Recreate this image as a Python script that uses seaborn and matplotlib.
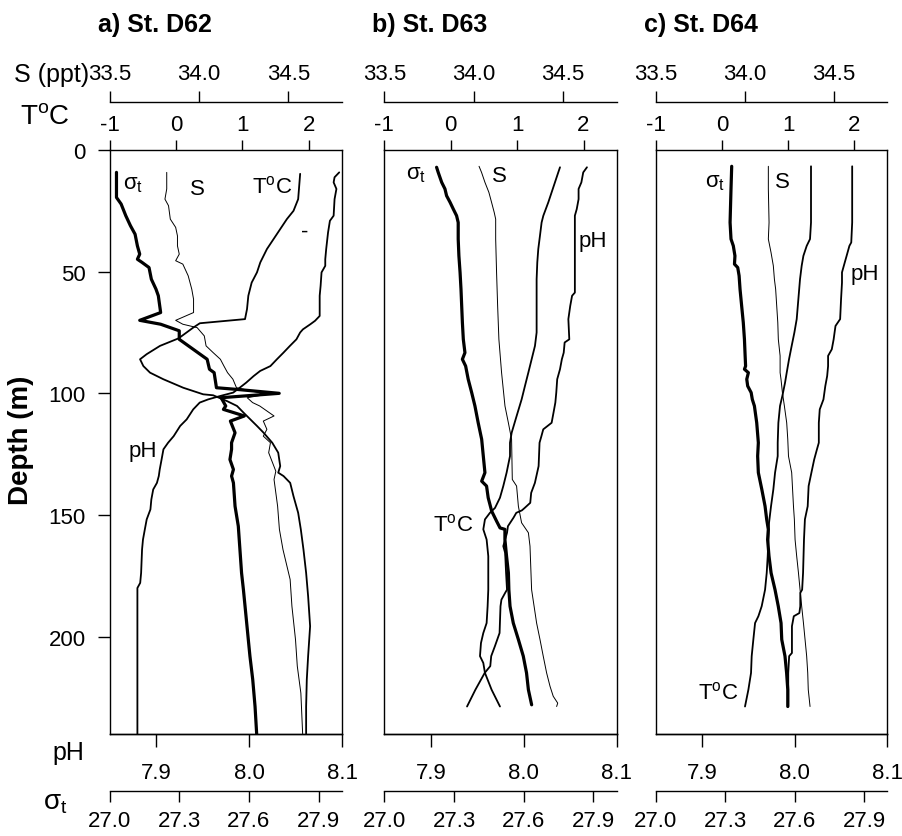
import matplotlib
matplotlib.use("Agg")
import matplotlib.pyplot as plt
from matplotlib.ticker import FormatStrFormatter
import seaborn as sns

# ---------------- St. D62 profiles (depth in m) ----------------
d62_sig_z = [9.2, 19.5, 22.2, 27.0, 31.1, 34.6, 39.4, 42.8, 44.9, 46.2, 48.3, 53.1, 57.2, 59.9, 66.8,
             70.0, 71.6, 74.3, 77.8, 81.9, 86.0, 90.1, 91.5, 97.7, 98.4, 100.0, 101.8, 105.2, 106.6,
             109.3, 111.4, 116.2, 120.3, 123.0, 127.2, 131.3, 134.0, 136.8, 146.4, 154.6, 164.2,
             173.8, 180.7, 187.5, 201.2, 208.0, 217.6, 228.7, 240.0]
d62_sig = [27.03, 27.03, 27.05, 27.07, 27.09, 27.11, 27.12, 27.13, 27.12, 27.14, 27.17, 27.18, 27.20,
           27.21, 27.22, 27.13, 27.22, 27.30, 27.30, 27.36, 27.42, 27.43, 27.45, 27.46, 27.55, 27.73,
           27.48, 27.50, 27.49, 27.58, 27.52, 27.54, 27.525, 27.525, 27.518, 27.533, 27.525, 27.533,
           27.540, 27.554, 27.561, 27.568, 27.576, 27.583, 27.597, 27.604, 27.616, 27.626, 27.633]

d62_s_z = [9.2, 16.0, 20.2, 22.9, 28.4, 31.8, 35.3, 39.4, 42.8, 45.5, 46.9, 51.7, 57.2, 61.3, 66.8,
           70.0, 71.6, 72.3, 73.0, 76.4, 80.5, 83.3, 86.0, 88.8, 91.5, 94.2, 97.7, 100.4, 101.8,
           103.8, 105.2, 109.3, 111.4, 114.8, 117.6, 120.3, 124.4, 132.0, 135.4, 146.4, 155.9,
           164.2, 176.5, 187.5, 201.2, 212.1, 223.2, 240.0]
d62_s = [33.82, 33.82, 33.81, 33.83, 33.84, 33.87, 33.88, 33.88, 33.89, 33.87, 33.91, 33.94, 33.96,
         33.97, 33.97, 33.87, 33.91, 33.95, 33.99, 34.03, 34.04, 34.08, 34.12, 34.14, 34.16, 34.19,
         34.21, 34.38, 34.27, 34.30, 34.34, 34.42, 34.36, 34.38, 34.36, 34.40, 34.39, 34.43, 34.42,
         34.44, 34.45, 34.47, 34.51, 34.52, 34.54, 34.55, 34.57, 34.58]

d62_t_z = [9.8, 20.2, 25.0, 28.4, 32.5, 36.6, 40.7, 46.2, 50.3, 54.5, 59.9, 65.4, 69.5, 71.2, 73.0,
           75.0, 77.4, 80.5, 83.9, 86.0, 88.8, 91.5, 94.2, 97.7, 100.4, 100.8, 103.2, 105.2, 108.0,
           110.7, 113.4, 116.2, 120.3, 124.4, 129.9, 132.6, 134.0, 136.8, 142.3, 149.1, 155.9,
           164.2, 173.8, 183.4, 195.7, 208.0, 217.6, 228.7, 240.0]
d62_t = [1.87, 1.84, 1.77, 1.67, 1.57, 1.47, 1.37, 1.27, 1.22, 1.14, 1.09, 1.07, 1.04, 0.36, 0.26,
         0.16, 0.04, -0.24, -0.44, -0.54, -0.49, -0.39, -0.19, 0.11, 0.41, 0.56, 0.77, 0.92, 1.02,
         1.12, 1.22, 1.32, 1.45, 1.54, 1.57, 1.54, 1.62, 1.72, 1.77, 1.84, 1.88, 1.92, 1.96, 1.99,
         2.02, 1.99, 1.97, 1.96, 1.96]

d62_ph_z = [9.2, 11.2, 13.3, 16.0, 20.2, 27.0, 29.1, 33.9, 40.7, 44.9, 47.6, 50.3, 55.8, 59.9, 68.2,
            70.2, 71.6, 73.7, 75.0, 77.8, 80.5, 83.3, 86.0, 88.8, 90.8, 92.9, 95.6, 97.7, 99.7,
            101.1, 102.5, 103.8, 106.6, 110.7, 113.4, 117.6, 120.3, 123.0, 127.2, 131.3, 134.0,
            136.8, 139.5, 143.6, 147.7, 151.8, 155.9, 160.1, 164.2, 173.8, 177.9, 180.0, 240.0]
d62_ph = [8.097, 8.092, 8.091, 8.094, 8.092, 8.091, 8.087, 8.085, 8.083, 8.082, 8.082, 8.078, 8.077,
          8.076, 8.076, 8.071, 8.066, 8.058, 8.055, 8.051, 8.044, 8.037, 8.030, 8.023, 8.012, 8.005,
          7.997, 7.990, 7.983, 7.969, 7.956, 7.947, 7.940, 7.933, 7.926, 7.919, 7.913, 7.908, 7.906,
          7.904, 7.903, 7.901, 7.897, 7.895, 7.894, 7.890, 7.888, 7.886, 7.885, 7.884, 7.883, 7.880,
          7.880]

# ---------------- St. D63 profiles ----------------
d63_sig_z = [7.1, 9.2, 13.3, 16.0, 18.8, 21.5, 24.3, 27.0, 29.8, 36.6, 43.5, 50.3, 57.2, 64.1, 70.9,
             77.8, 83.3, 86.0, 88.8, 94.2, 99.7, 105.2, 112.1, 118.9, 125.8, 132.6, 136.1, 138.1,
             142.9, 148.4, 152.5, 155.3, 155.9, 160.1, 166.9, 173.8, 180.7, 187.5, 194.4, 201.2,
             208.0, 214.9, 221.8, 228.0]
d63_sig = [27.225, 27.232, 27.247, 27.261, 27.268, 27.283, 27.297, 27.311, 27.318, 27.318, 27.321,
           27.326, 27.330, 27.333, 27.336, 27.340, 27.347, 27.336, 27.350, 27.361, 27.376, 27.390,
           27.404, 27.419, 27.426, 27.433, 27.419, 27.440, 27.447, 27.462, 27.483, 27.498, 27.519,
           27.519, 27.526, 27.534, 27.536, 27.541, 27.555, 27.577, 27.598, 27.612, 27.620, 27.634]

d63_s_z = [6.7, 9.2, 13.3, 17.4, 21.5, 25.7, 28.4, 36.6, 50.3, 64.1, 77.8, 91.5, 105.2, 112.1, 118.9,
           135.4, 138.1, 146.4, 153.2, 157.3, 162.8, 180.7, 194.4, 201.2, 208.0, 214.9, 220.4,
           224.5, 227.3, 228.7]
d63_s = [34.030, 34.044, 34.063, 34.085, 34.100, 34.115, 34.123, 34.123, 34.128, 34.134, 34.141,
         34.156, 34.175, 34.194, 34.212, 34.216, 34.240, 34.250, 34.268, 34.306, 34.315, 34.324,
         34.352, 34.371, 34.389, 34.408, 34.427, 34.445, 34.470, 34.464]

d63_t_z = [7.1, 9.2, 13.3, 17.4, 21.5, 27.0, 29.8, 35.3, 40.7, 46.2, 53.1, 64.1, 75.0, 80.5, 86.0,
           91.5, 97.0, 102.5, 109.3, 116.2, 120.3, 125.8, 132.6, 138.1, 142.9, 147.1, 149.1, 151.8,
           155.9, 160.1, 166.9, 180.7, 187.5, 194.4, 198.5, 202.6, 208.0, 210.8, 214.9, 221.8, 228.7]
d63_t = [1.646, 1.620, 1.570, 1.520, 1.470, 1.395, 1.369, 1.344, 1.319, 1.304, 1.294, 1.294, 1.294,
         1.269, 1.219, 1.169, 1.118, 1.068, 0.993, 0.918, 0.893, 0.893, 0.842, 0.792, 0.742, 0.667,
         0.591, 0.516, 0.491, 0.541, 0.566, 0.566, 0.556, 0.541, 0.491, 0.456, 0.441, 0.491, 0.516,
         0.616, 0.742]

d63_ph_z = [7.1, 9.2, 13.3, 16.0, 20.2, 24.3, 27.0, 58.6, 59.9, 64.1, 69.5, 77.8, 79.1, 83.3, 86.0,
            90.1, 94.2, 99.7, 103.8, 108.0, 112.1, 114.8, 117.6, 120.3, 129.9, 136.8, 140.9, 145.0,
            147.1, 148.1, 149.1, 151.1, 154.6, 157.3, 160.1, 162.8, 165.6, 173.8, 180.7, 182.0,
            184.8, 187.5, 198.5, 203.9, 208.0, 212.1, 214.9, 221.8, 228.7]
d63_ph = [8.068, 8.064, 8.062, 8.059, 8.059, 8.057, 8.055, 8.055, 8.052, 8.050, 8.048, 8.049, 8.044,
          8.043, 8.041, 8.039, 8.036, 8.035, 8.034, 8.032, 8.030, 8.021, 8.019, 8.017, 8.016, 8.012,
          8.008, 8.007, 8.001, 7.998, 7.992, 7.989, 7.983, 7.982, 7.980, 7.978, 7.980, 7.981, 7.982,
          7.980, 7.976, 7.975, 7.974, 7.969, 7.965, 7.964, 7.958, 7.948, 7.939]

# ---------------- St. D64 profiles ----------------
d64_sig_z = [6.7, 16.0, 29.8, 36.6, 39.4, 43.5, 46.9, 48.3, 51.7, 57.2, 64.1, 70.9, 77.8, 84.6, 88.8,
             90.1, 91.5, 94.2, 97.0, 99.7, 102.5, 105.2, 112.1, 120.3, 125.8, 132.6, 139.5, 146.4,
             151.8, 155.9, 160.1, 166.9, 173.8, 180.7, 187.5, 194.4, 201.2, 208.0, 214.9, 221.8, 228.7]
d64_sig = [27.328, 27.325, 27.321, 27.325, 27.335, 27.342, 27.340, 27.354, 27.360, 27.364, 27.371,
           27.378, 27.383, 27.386, 27.388, 27.383, 27.400, 27.393, 27.397, 27.412, 27.417, 27.426,
           27.436, 27.443, 27.440, 27.443, 27.458, 27.472, 27.479, 27.486, 27.483, 27.489, 27.498,
           27.515, 27.529, 27.541, 27.544, 27.558, 27.565, 27.570, 27.570]

d64_s_z = [6.7, 16.0, 29.8, 36.6, 42.1, 47.6, 53.1, 57.2, 64.1, 70.9, 77.8, 84.6, 91.5, 94.2, 99.7,
           105.2, 112.1, 118.9, 125.8, 132.6, 146.4, 151.8, 160.1, 166.9, 173.8, 180.7, 187.5,
           194.4, 201.2, 208.0, 214.9, 221.8, 228.7]
d64_s = [34.132, 34.132, 34.136, 34.132, 34.147, 34.160, 34.166, 34.173, 34.179, 34.185, 34.188,
         34.198, 34.198, 34.203, 34.211, 34.222, 34.235, 34.241, 34.245, 34.263, 34.273, 34.278,
         34.282, 34.291, 34.301, 34.310, 34.319, 34.329, 34.338, 34.347, 34.353, 34.356, 34.366]

d64_t_z = [6.7, 16.0, 29.8, 36.6, 39.4, 43.5, 47.6, 53.1, 61.3, 69.5, 75.0, 80.5, 86.0, 91.5, 95.6,
           101.1, 105.2, 112.1, 120.3, 125.8, 132.6, 139.5, 146.4, 153.2, 160.1, 166.9, 173.8,
           180.7, 187.5, 191.6, 194.4, 201.2, 208.0, 214.9, 221.8, 228.7]
d64_t = [1.346, 1.346, 1.346, 1.331, 1.281, 1.231, 1.205, 1.180, 1.155, 1.130, 1.095, 1.054, 1.014,
         0.979, 0.954, 0.913, 0.878, 0.853, 0.843, 0.843, 0.803, 0.777, 0.742, 0.712, 0.702, 0.692,
         0.677, 0.652, 0.601, 0.551, 0.501, 0.475, 0.450, 0.440, 0.400, 0.349]

d64_ph_z = [6.7, 16.0, 29.8, 38.0, 39.4, 43.5, 46.2, 50.3, 54.5, 61.3, 69.5, 72.3, 75.0, 77.8, 81.9,
            84.6, 88.8, 92.9, 97.0, 102.5, 106.6, 112.1, 120.3, 123.0, 127.2, 132.6, 138.1, 146.4,
            151.8, 160.1, 173.8, 180.7, 182.0, 187.5, 190.3, 191.6, 195.7, 206.7, 208.0, 214.9, 228.7]
d64_ph = [8.062, 8.062, 8.062, 8.061, 8.059, 8.056, 8.054, 8.051, 8.051, 8.050, 8.049, 8.044, 8.043,
          8.042, 8.040, 8.036, 8.036, 8.035, 8.033, 8.031, 8.027, 8.026, 8.026, 8.024, 8.021, 8.018,
          8.015, 8.014, 8.011, 8.010, 8.009, 8.008, 8.006, 8.006, 8.005, 7.999, 7.997, 7.997, 7.994,
          7.993, 7.993]

# ---------------- axis ranges and ticks ----------------
t_lim, t_ticks = (-1.0, 2.5), [-1, 0, 1, 2]
s_lim, s_ticks = (33.5, 34.8), [33.5, 34.0, 34.5]
ph_lim, ph_ticks = (7.85, 8.10), [7.9, 8.0, 8.1]
sig_lim, sig_ticks = (27.0, 28.0), [27.0, 27.3, 27.6, 27.9]
depth_lim, depth_ticks = (240, 0), [0, 50, 100, 150, 200]

stations = [
    dict(title="a) St. D62", sig=(d62_sig, d62_sig_z), s=(d62_s, d62_s_z),
         t=(d62_t, d62_t_z), ph=(d62_ph, d62_ph_z)),
    dict(title="b) St. D63", sig=(d63_sig, d63_sig_z), s=(d63_s, d63_s_z),
         t=(d63_t, d63_t_z), ph=(d63_ph, d63_ph_z)),
    dict(title="c) St. D64", sig=(d64_sig, d64_sig_z), s=(d64_s, d64_s_z),
         t=(d64_t, d64_t_z), ph=(d64_ph, d64_ph_z)),
]

# ---------------- style ----------------
sns.set_style("ticks")
plt.rcParams["font.family"] = ["Liberation Sans", "DejaVu Sans"]
plt.rcParams["axes.unicode_minus"] = False
plt.rcParams["mathtext.fontset"] = "custom"
plt.rcParams["mathtext.rm"] = "Liberation Sans"
plt.rcParams["mathtext.it"] = "Liberation Sans:italic"
plt.rcParams["mathtext.default"] = "regular"
for key in ["axes.edgecolor", "xtick.color", "ytick.color", "text.color", "axes.labelcolor"]:
    plt.rcParams[key] = "black"

W, H = 902, 837
fig = plt.figure(figsize=(W / 100, H / 100), dpi=100)
fig.patch.set_facecolor("white")


def fx(px):
    return px / W


def fy(py):
    return 1 - py / H


TOP, BOTTOM = 151, 735
panel_boxes = [(109.5, 232.5), (384.3, 232.4), (655.7, 231.7)]
TICK_FS = 16


def profile(ax, data, lw):
    vals, depth = data
    sns.lineplot(x=vals, y=depth, ax=ax, sort=False, estimator=None, orient="y",
                 color="black", lw=lw)
    ax.set_xlabel("")
    ax.set_ylabel("")


def only_spine(ax, keep):
    for name, sp in ax.spines.items():
        sp.set_visible(name == keep)
        sp.set_linewidth(1.0)


for i, (st, (left, width)) in enumerate(zip(stations, panel_boxes)):
    ax = fig.add_axes([fx(left), fy(BOTTOM), width / W, (BOTTOM - TOP) / H])
    ax_s = ax.twiny()
    ax_ph = ax.twiny()
    ax_sig = ax.twiny()

    # profiles: S thin, T and pH medium, sigma-t heavy
    profile(ax_s, st["s"], 0.7)
    profile(ax, st["t"], 1.3)
    profile(ax_ph, st["ph"], 1.3)
    profile(ax_sig, st["sig"], 2.3)

    # temperature on the top edge of the frame
    ax.set_xlim(*t_lim)
    ax.set_ylim(*depth_lim)
    ax.xaxis.set_ticks_position("top")
    ax.xaxis.set_label_position("top")
    ax.set_xticks(t_ticks)
    ax.tick_params(axis="x", direction="out", length=7, width=1, pad=4, labelsize=TICK_FS)
    for sp in ax.spines.values():
        sp.set_linewidth(1.0)
    ax.set_yticks(depth_ticks)
    if i == 0:
        ax.tick_params(axis="y", direction="out", length=9, width=1, pad=8, labelsize=TICK_FS)
    else:
        ax.tick_params(axis="y", left=False, labelleft=False)

    # salinity axis above
    ax_s.set_xlim(*s_lim)
    ax_s.set_xticks(s_ticks)
    ax_s.xaxis.set_major_formatter(FormatStrFormatter("%.1f"))
    ax_s.xaxis.set_ticks_position("top")
    only_spine(ax_s, "top")
    ax_s.spines["top"].set_position(("outward", 34.5))
    ax_s.tick_params(axis="x", direction="out", length=8, width=1, pad=5, labelsize=TICK_FS)

    # pH on the bottom edge of the frame
    ax_ph.set_xlim(*ph_lim)
    ax_ph.set_xticks(ph_ticks)
    ax_ph.xaxis.set_major_formatter(FormatStrFormatter("%.1f"))
    ax_ph.xaxis.set_ticks_position("bottom")
    ax_ph.xaxis.set_label_position("bottom")
    only_spine(ax_ph, "bottom")
    ax_ph.tick_params(axis="x", direction="out", length=9, width=1, pad=11, labelsize=TICK_FS)

    # sigma-t axis below
    ax_sig.set_xlim(*sig_lim)
    ax_sig.set_xticks(sig_ticks)
    ax_sig.xaxis.set_major_formatter(FormatStrFormatter("%.1f"))
    ax_sig.xaxis.set_ticks_position("bottom")
    ax_sig.xaxis.set_label_position("bottom")
    only_spine(ax_sig, "bottom")
    ax_sig.spines["bottom"].set_position(("outward", 41))
    ax_sig.tick_params(axis="x", direction="out", length=8, width=1, pad=6, labelsize=TICK_FS)

    fig.text(fx(left - 12), fy(25), st["title"], fontsize=18, fontweight="bold",
             ha="left", va="center")

# axis names at the left
fig.text(fx(89), fy(75), "S (ppt)", fontsize=18, ha="right", va="center")
fig.text(fx(45), fy(117), r"T$^{\rm o}$C", fontsize=20, ha="center", va="center")
fig.text(fx(68), fy(753), "pH", fontsize=18, ha="center", va="center")
fig.text(fx(55), fy(803), r"$\sigma_t$", fontsize=20, ha="center", va="center")
fig.text(fx(21), fy(440), "Depth (m)", fontsize=20, fontweight="bold", rotation=90,
         ha="center", va="center")

# curve labels inside the panels
curve_labels = [
    (133, 185, r"$\sigma_t$"), (197, 190, "S"), (272, 187, r"T$^{\rm o}$C"), (305, 232, "-"),
    (143, 452, "pH"),
    (416, 175, r"$\sigma_t$"), (499, 177, "S"), (593, 241, "pH"), (453, 525, r"T$^{\rm o}$C"),
    (715, 183, r"$\sigma_t$"), (782, 183, "S"), (865, 275, "pH"), (718, 693, r"T$^{\rm o}$C"),
]
for x, y, txt in curve_labels:
    fig.text(fx(x), fy(y), txt, fontsize=16, ha="center", va="center")

fig.savefig("out.png", dpi=100, facecolor="white")
